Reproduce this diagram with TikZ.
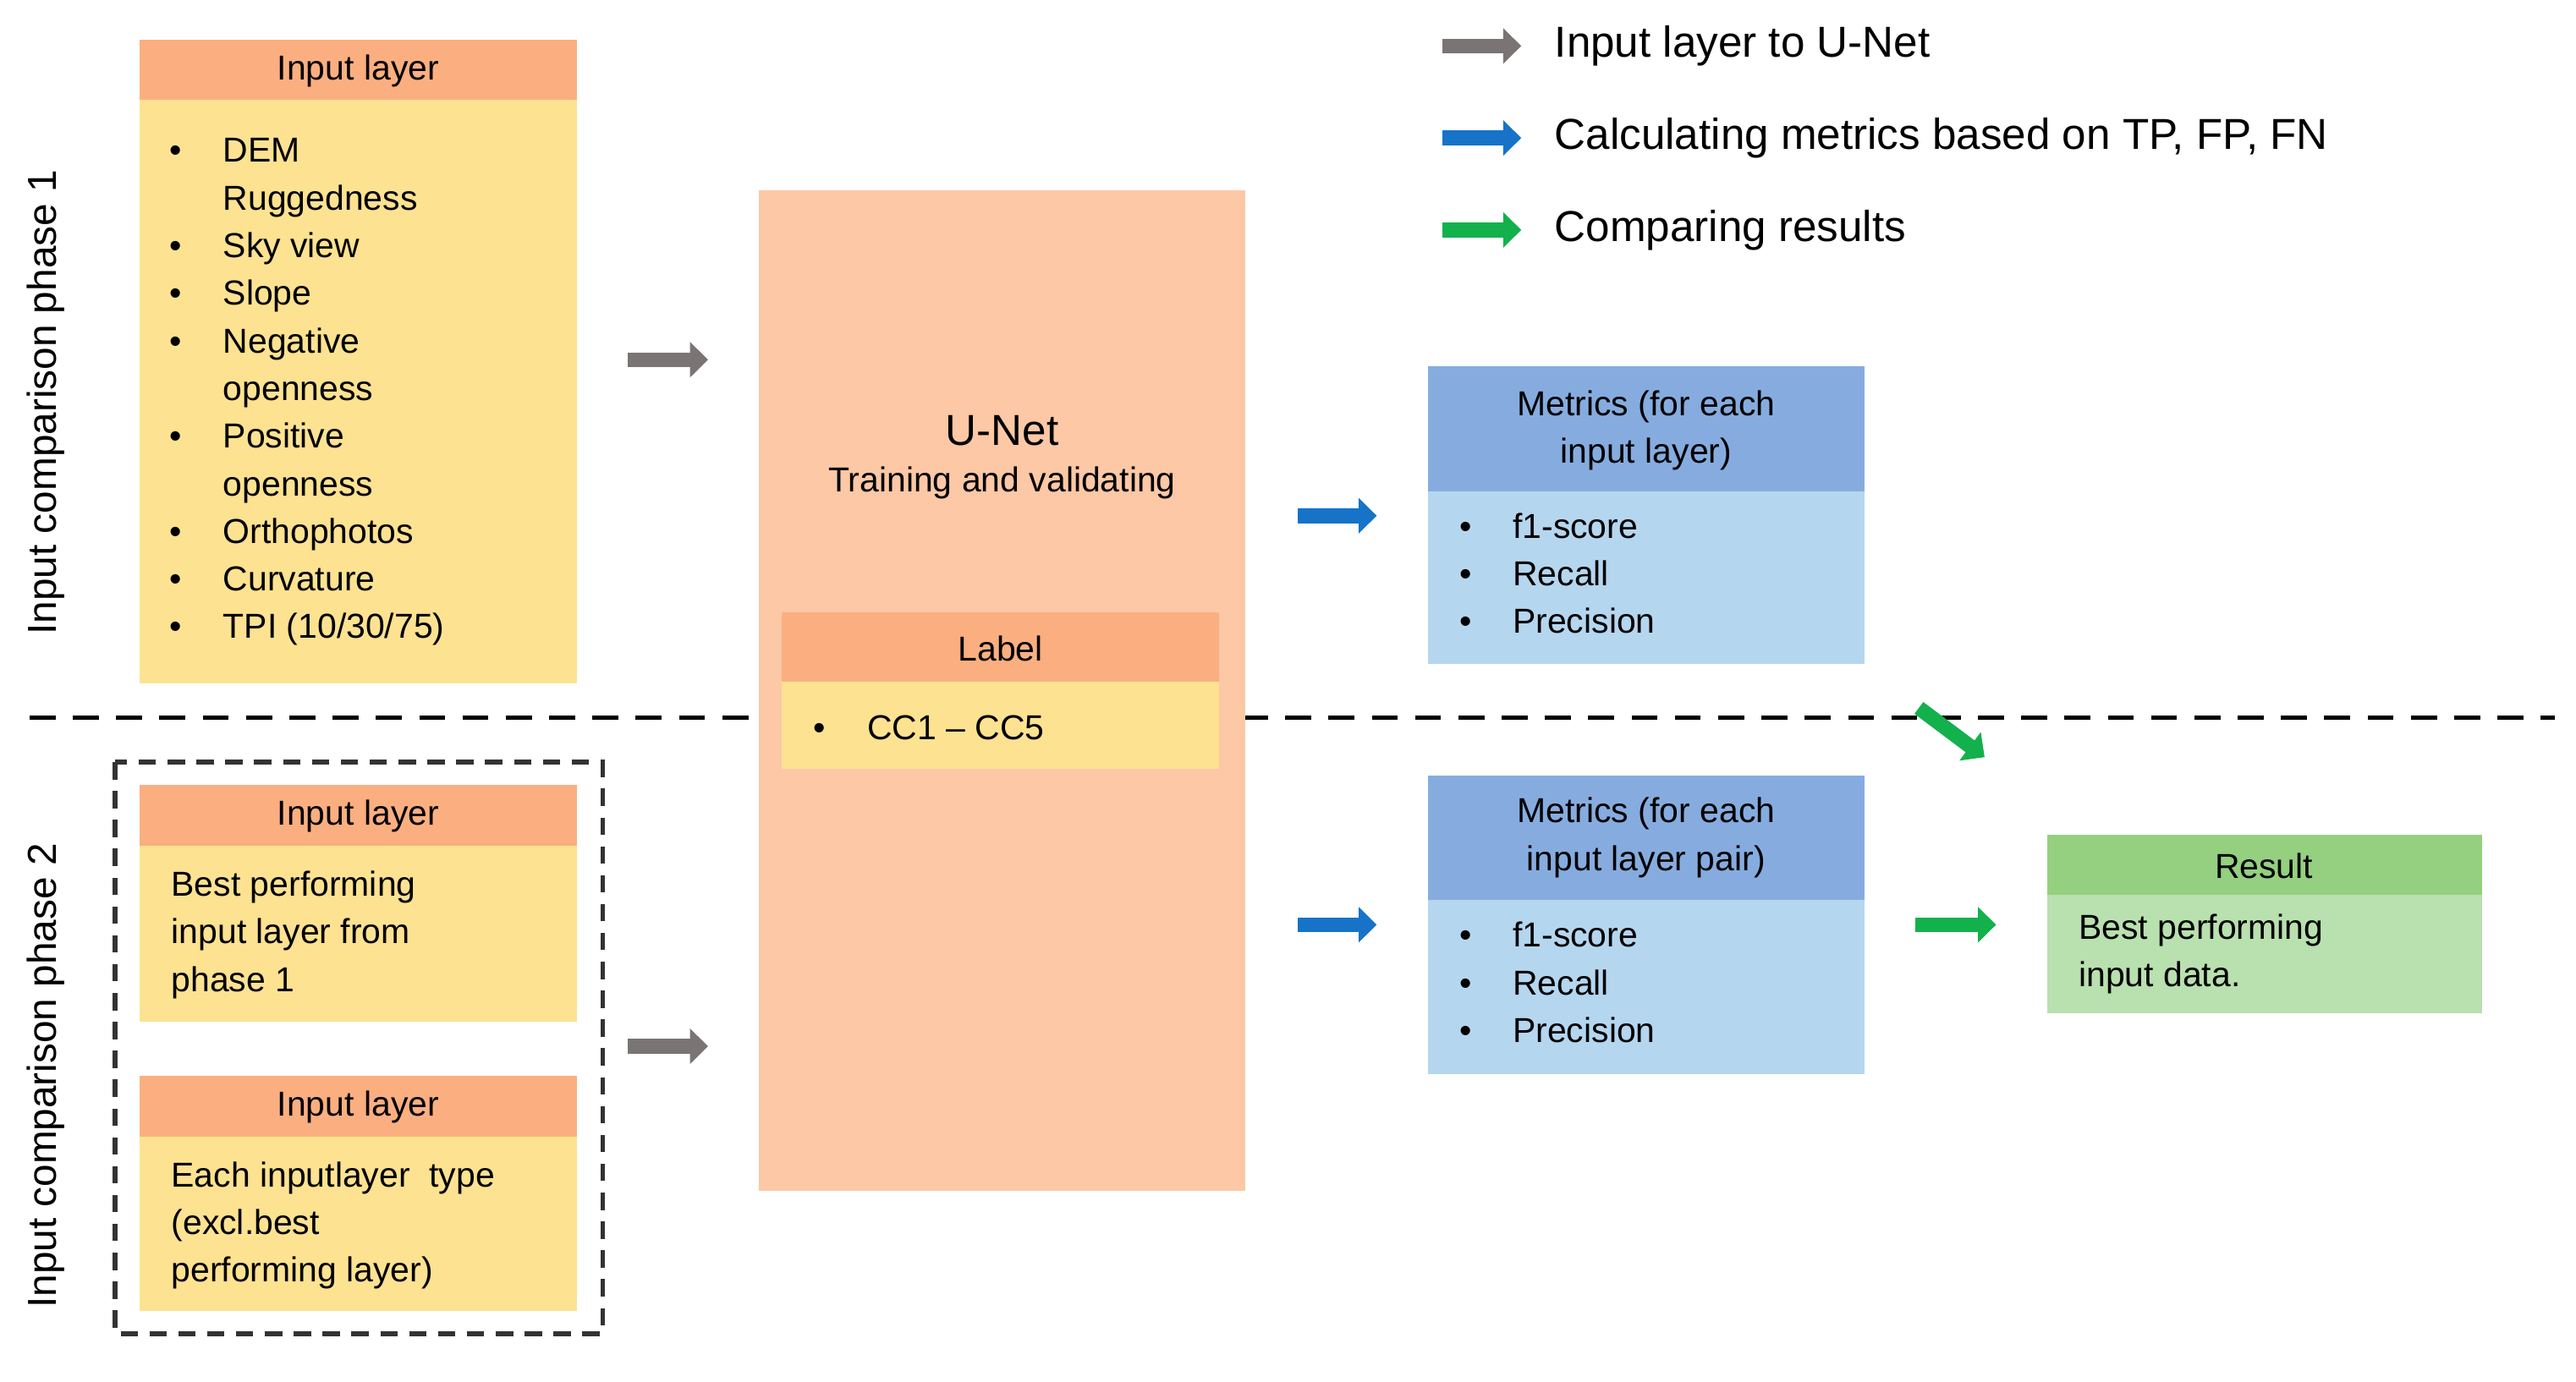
\documentclass[tikz,border=0pt]{standalone}
\usepackage{fontspec}
\setmainfont{Liberation Sans}
\usetikzlibrary{arrows.meta}
\definecolor{hdr}{HTML}{FBAF80}
\definecolor{yel}{HTML}{FDE291}
\definecolor{unet}{HTML}{FCC8A5}
\definecolor{bhdr}{HTML}{86ACDF}
\definecolor{bbody}{HTML}{B5D6EF}
\definecolor{ghdr}{HTML}{94D07F}
\definecolor{gbody}{HTML}{B9E0AF}
\definecolor{agray}{HTML}{7A7474}
\definecolor{ablue}{HTML}{1673C8}
\definecolor{agreen}{HTML}{12B14B}
\newcommand{\bi}[1]{\makebox[18.5pt][l]{\textbullet}#1}
\newcommand{\ci}[1]{\makebox[18.5pt][l]{}#1}
\tikzset{
 fl/.style={inner sep=0,draw=none},
 txt/.style={font=\fontsize{12}{16.5}\selectfont,inner sep=0,align=left,anchor=north west},
 ctr/.style={font=\fontsize{12}{16.5}\selectfont,inner sep=0,align=center},
 bar/.style={line width=0.18cm,-{Triangle[length=0.22cm,width=0.42cm]}},
}
\begin{document}
\begin{tikzpicture}[x=0.02cm,y=-0.02cm]
\useasboundingbox (0,0) rectangle (1568,841);
% dashed separator
\draw[line width=1.6pt,dash pattern=on 9pt off 6pt] (18,437) -- (1555,437);
% Input layer 1
\fill[yel] (85,61) rectangle (351,416);
\fill[hdr] (85,24) rectangle (351,61);
\node[ctr] (h1) at (218,43) {Input layer};
\node[txt] (l1) at (103,84) {\bi{DEM}\\\ci{Ruggedness}\\\bi{Sky view}\\\bi{Slope}\\\bi{Negative}\\\ci{openness}\\\bi{Positive}\\\ci{openness}\\\bi{Orthophotos}\\\bi{Curvature}\\\bi{TPI (10/30/75)}};
% phase labels
\node[rotate=90,font=\fontsize{14}{16}\selectfont] (p1) at (28,245) {Input comparison phase 1};
\node[rotate=90,font=\fontsize{14}{16}\selectfont] (p2) at (28,655) {Input comparison phase 2};
% U-Net
\fill[unet] (462,116) rectangle (758,725);
\node[font=\fontsize{15}{17}\selectfont] (un) at (610,262) {U-Net};
\node[ctr] (tv) at (610,294) {Training and validating};
\fill[yel] (476,415) rectangle (742,468);
\fill[hdr] (476,373) rectangle (742,415);
\node[ctr] (lb) at (609,395) {Label};
\node[txt,anchor=west] (cc) at (495,443) {\bi{CC1 -- CC5}};
% Metrics 1
\fill[bbody] (869,299) rectangle (1135,404);
\fill[bhdr] (869,223) rectangle (1135,299);
\node[ctr] (m1) at (1002,262) {Metrics (for each\\input layer)};
\node[txt] (m1l) at (888,312) {\bi{f1-score}\\\bi{Recall}\\\bi{Precision}};
% Metrics 2
\fill[bbody] (869,548) rectangle (1135,654);
\fill[bhdr] (869,472) rectangle (1135,548);
\node[ctr] (m2) at (1002,510) {Metrics (for each\\input layer pair)};
\node[txt] (m2l) at (888,561) {\bi{f1-score}\\\bi{Recall}\\\bi{Precision}};
% Result
\fill[gbody] (1246,545) rectangle (1511,617);
\fill[ghdr] (1246,508) rectangle (1511,545);
\node[ctr] (rh) at (1378,527) {Result};
\node[txt] (rb) at (1265,556) {Best performing\\input data.};
% phase 2 inputs
\draw[line width=1.6pt,dash pattern=on 6pt off 4pt,draw=black!80] (70,464) rectangle (367,812);
\fill[yel] (85,515) rectangle (351,622);
\fill[hdr] (85,478) rectangle (351,515);
\node[ctr] (h2) at (218,497) {Input layer};
\node[txt] (b2) at (104,530) {Best performing\\input layer from\\phase 1};
\fill[yel] (85,692) rectangle (351,798);
\fill[hdr] (85,655) rectangle (351,692);
\node[ctr] (h3) at (218,674) {Input layer};
\node[txt] (b3) at (104,707) {Each inputlayer~ type\\(excl.best\\performing layer)};
% arrows
\coordinate (g1a) at (382,219); \coordinate (g1b) at (431,219);
\coordinate (g2a) at (382,637); \coordinate (g2b) at (431,637);
\coordinate (b1a) at (790,314); \coordinate (b1b) at (838,314);
\coordinate (b2a) at (790,563); \coordinate (b2b) at (838,563);
\coordinate (e1a) at (1166,563); \coordinate (e1b) at (1215,563);
\coordinate (e2a) at (1168,431); \coordinate (e2b) at (1208,461);
\draw[bar,agray] (g1a) -- (g1b);
\draw[bar,agray] (g2a) -- (g2b);
\draw[bar,ablue] (b1a) -- (b1b);
\draw[bar,ablue] (b2a) -- (b2b);
\draw[bar,agreen] (e1a) -- (e1b);
\draw[bar,agreen] (e2a) -- (e2b);
% legend
\coordinate (k1a) at (878,28); \coordinate (k1b) at (926,28);
\coordinate (k2a) at (878,84); \coordinate (k2b) at (926,84);
\coordinate (k3a) at (878,140); \coordinate (k3b) at (926,140);
\draw[bar,agray] (k1a) -- (k1b);
\draw[bar,ablue] (k2a) -- (k2b);
\draw[bar,agreen] (k3a) -- (k3b);
\node[anchor=west,inner sep=0,font=\fontsize{15}{17}\selectfont] (t1) at (946,28) {Input layer to U-Net};
\node[anchor=west,inner sep=0,font=\fontsize{15}{17}\selectfont] (t2) at (946,84) {Calculating metrics based on TP, FP, FN};
\node[anchor=west,inner sep=0,font=\fontsize{15}{17}\selectfont] (t3) at (946,140) {Comparing results};
\end{tikzpicture}
\end{document}
